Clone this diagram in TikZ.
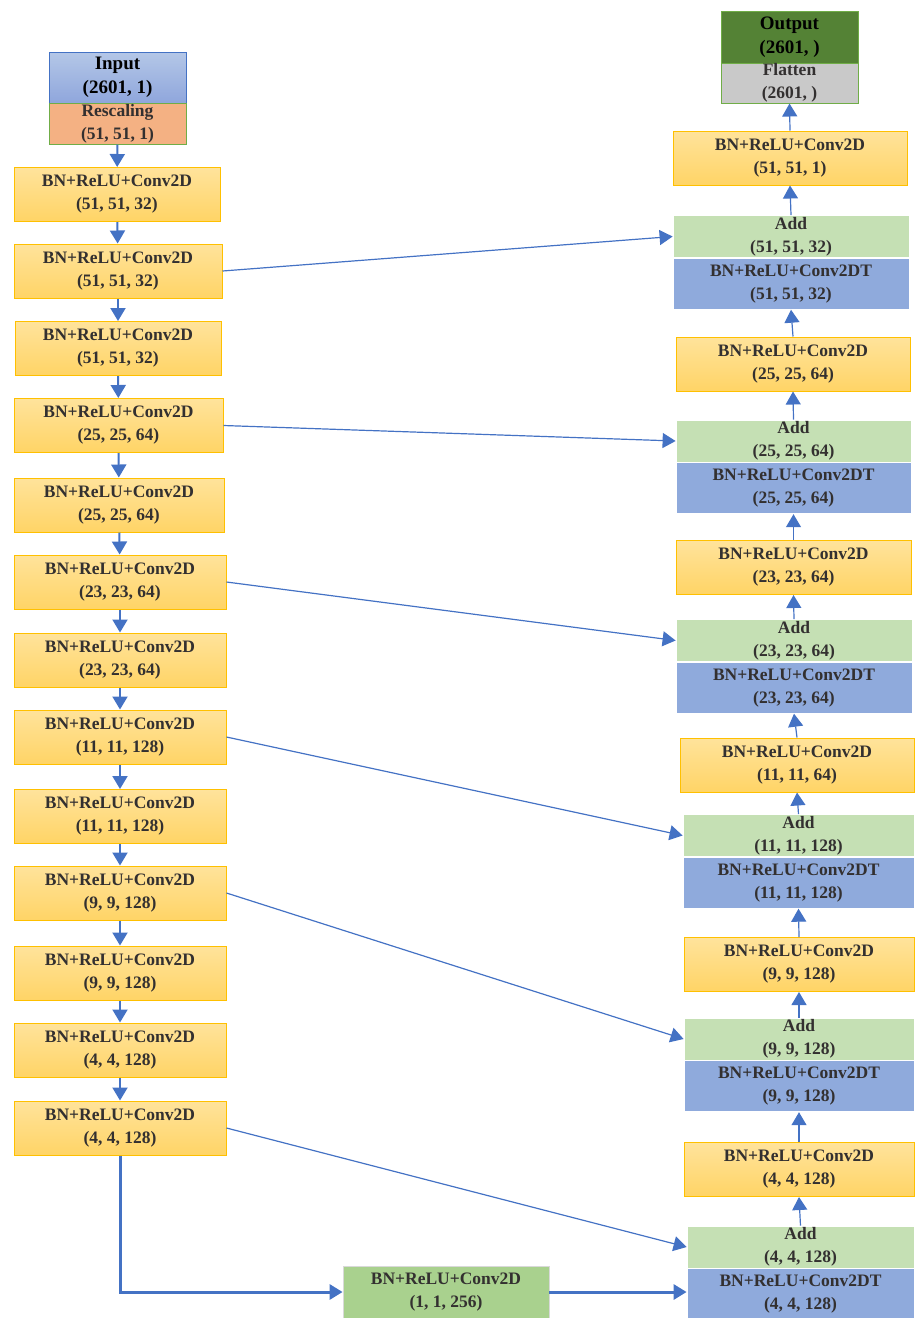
\documentclass[tikz,border=0pt]{standalone}
\usepackage{fontspec}
\setmainfont{Liberation Serif}
\usepackage{tikz}
\usetikzlibrary{arrows.meta}

\definecolor{convtop}{HTML}{FFE39B}
\definecolor{convbot}{HTML}{FFD466}
\definecolor{convline}{HTML}{FFC000}
\definecolor{addfill}{HTML}{C5E0B4}
\definecolor{dtfill}{HTML}{8FAADC}
\definecolor{inptop}{HTML}{B4C7E7}
\definecolor{inpbot}{HTML}{8FA6DC}
\definecolor{rescfill}{HTML}{F4B183}
\definecolor{outfill}{HTML}{548235}
\definecolor{flatfill}{HTML}{C9C9C9}
\definecolor{midfill}{HTML}{A9D18E}
\definecolor{edgegreen}{HTML}{70AD47}
\definecolor{arrowblue}{HTML}{4472C4}
\definecolor{txtgray}{HTML}{333030}

\tikzset{
  box/.style={align=center, inner sep=0pt, text=txtgray,
    font=\bfseries\fontsize{17.5}{23}\selectfont},
  conv/.style={box, draw=convline, line width=1pt, top color=convtop, bottom color=convbot,
    minimum width=210pt, minimum height=54pt},
  addbox/.style={box, fill=addfill, draw=white, line width=0.8pt, minimum height=42pt},
  dtbox/.style={box, fill=dtfill, draw=white, line width=0.8pt, minimum height=51pt},
  flow/.style={arrowblue, line width=2pt, -{Triangle[length=13pt,width=15pt]}},
  skip/.style={arrowblue, line width=1.2pt, -{Triangle[length=13pt,width=15pt]}},
  bottleneck/.style={arrowblue, line width=3pt, -{Triangle[length=13pt,width=15pt]}}
}

\begin{document}
\begin{tikzpicture}[x=1pt, y=-1pt]
\useasboundingbox (0,0) rectangle (915,1318);
% input
\node[box, draw=arrowblue, line width=1pt, top color=inptop, bottom color=inpbot, text=black,
  font=\bfseries\fontsize{19}{24}\selectfont,
  minimum width=137pt, minimum height=51pt] (inp) at (117.5,77.5) {Input\\(2601, 1)};
\node[box, draw=edgegreen, line width=1pt, fill=rescfill,
  minimum width=137pt, minimum height=41pt] (resc) at (117.5,123.5) {Rescaling\\(51, 51, 1)};
% encoder
\node[conv, minimum width=206pt] (c1) at (117,194.5) {BN+ReLU+Conv2D\\(51, 51, 32)};
\node[conv, minimum width=208pt] (c2) at (118,271) {BN+ReLU+Conv2D\\(51, 51, 32)};
\node[conv, minimum width=206pt] (c3) at (118,348.5) {BN+ReLU+Conv2D\\(51, 51, 32)};
\node[conv, minimum width=209pt] (c4) at (118.5,425.5) {BN+ReLU+Conv2D\\(25, 25, 64)};
\node[conv] (c5) at (119,505) {BN+ReLU+Conv2D\\(25, 25, 64)};
\node[conv, minimum width=212pt] (c6) at (120,582) {BN+ReLU+Conv2D\\(23, 23, 64)};
\node[conv, minimum width=212pt] (c7) at (120,660) {BN+ReLU+Conv2D\\(23, 23, 64)};
\node[conv, minimum width=212pt] (c8) at (120,737) {BN+ReLU+Conv2D\\(11, 11, 128)};
\node[conv, minimum width=212pt] (c9) at (120,816.5) {BN+ReLU+Conv2D\\(11, 11, 128)};
\node[conv, minimum width=212pt] (c10) at (120,893) {BN+ReLU+Conv2D\\(9, 9, 128)};
\node[conv, minimum width=212pt] (c11) at (120,973) {BN+ReLU+Conv2D\\(9, 9, 128)};
\node[conv, minimum width=212pt] (c12) at (120,1050) {BN+ReLU+Conv2D\\(4, 4, 128)};
\node[conv, minimum width=212pt] (c13) at (120,1128) {BN+ReLU+Conv2D\\(4, 4, 128)};
% bottleneck
\node[box, fill=midfill, draw=white!85!black, line width=0.8pt,
  minimum width=206pt, minimum height=52pt] (mid) at (446,1292) {BN+ReLU+Conv2D\\(1, 1, 256)};
% decoder
\node[box, draw=edgegreen, line width=1pt, fill=outfill, text=black,
  font=\bfseries\fontsize{19}{24}\selectfont,
  minimum width=137pt, minimum height=52pt] (out) at (789.5,37) {Output\\(2601, )};
\node[box, draw=edgegreen, line width=1pt, fill=flatfill,
  minimum width=137pt, minimum height=40pt] (flat) at (789.5,83) {Flatten\\(2601, )};
\node[conv, minimum width=234pt] (r0) at (790,158) {BN+ReLU+Conv2D\\(51, 51, 1)};
\node[addbox, minimum width=236pt] (a1) at (791,236.5) {Add\\(51, 51, 32)};
\node[dtbox, minimum width=236pt, anchor=north] (d1) at (a1.south) {BN+ReLU+Conv2DT\\(51, 51, 32)};
\node[conv, minimum width=234pt] (r1) at (793,364) {BN+ReLU+Conv2D\\(25, 25, 64)};
\node[addbox, minimum width=235pt] (a2) at (793.5,441) {Add\\(25, 25, 64)};
\node[dtbox, minimum width=235pt, anchor=north] (d2) at (a2.south) {BN+ReLU+Conv2DT\\(25, 25, 64)};
\node[conv, minimum width=235pt] (r2) at (793.5,567.5) {BN+ReLU+Conv2D\\(23, 23, 64)};
\node[addbox, minimum width=236pt] (a3) at (794,640.5) {Add\\(23, 23, 64)};
\node[dtbox, minimum width=236pt, anchor=north] (d3) at (a3.south) {BN+ReLU+Conv2DT\\(23, 23, 64)};
\node[conv, minimum width=234pt] (r3) at (797,765) {BN+ReLU+Conv2D\\(11, 11, 64)};
\node[addbox, minimum width=231pt] (a4) at (798.5,835.5) {Add\\(11, 11, 128)};
\node[dtbox, minimum width=231pt, anchor=north] (d4) at (a4.south) {BN+ReLU+Conv2DT\\(11, 11, 128)};
\node[conv, minimum width=230pt] (r4) at (799,964.5) {BN+ReLU+Conv2D\\(9, 9, 128)};
\node[addbox, minimum width=230pt] (a5) at (799,1039) {Add\\(9, 9, 128)};
\node[dtbox, minimum width=230pt, anchor=north] (d5) at (a5.south) {BN+ReLU+Conv2DT\\(9, 9, 128)};
\node[conv, minimum width=230pt] (r5) at (799,1169.5) {BN+ReLU+Conv2D\\(4, 4, 128)};
\node[addbox, minimum width=227pt] (a6) at (800.5,1247) {Add\\(4, 4, 128)};
\node[dtbox, minimum width=227pt, anchor=north] (d6) at (a6.south) {BN+ReLU+Conv2DT\\(4, 4, 128)};
% down the encoder
\draw[flow] (resc) -- (c1);
\draw[flow] (c1) -- (c2);
\draw[flow] (c2) -- (c3);
\draw[flow] (c3) -- (c4);
\draw[flow] (c4) -- (c5);
\draw[flow] (c5) -- (c6);
\draw[flow] (c6) -- (c7);
\draw[flow] (c7) -- (c8);
\draw[flow] (c8) -- (c9);
\draw[flow] (c9) -- (c10);
\draw[flow] (c10) -- (c11);
\draw[flow] (c11) -- (c12);
\draw[flow] (c12) -- (c13);
% through the bottleneck
\draw[bottleneck] (c13.south) |- (mid.west);
\draw[bottleneck] (mid.east) -- (d6.west |- mid.east);
% up the decoder
\draw[flow, line width=1.2pt] (a6.north) -- (r5.south);
\draw[flow, line width=1.2pt] (r5.north) -- (d5.south);
\draw[flow, line width=1.2pt] (a5.north) -- (r4.south);
\draw[flow, line width=1.2pt] (r4.north) -- (d4.south);
\draw[flow, line width=1.2pt] (a4.north) -- (r3.south);
\draw[flow, line width=1.2pt] (r3.north) -- (d3.south);
\draw[flow, line width=1.2pt] (a3.north) -- (r2.south);
\draw[flow, line width=1.2pt] (r2.north) -- (d2.south);
\draw[flow, line width=1.2pt] (a2.north) -- (r1.south);
\draw[flow, line width=1.2pt] (r1.north) -- (d1.south);
\draw[flow, line width=1.2pt] (a1.north) -- (r0.south);
\draw[flow, line width=1.2pt] (r0.north) -- (flat.south);
% skip connections
\draw[skip] (c2.east) -- (a1.west);
\draw[skip] (c4.east) -- (a2.west);
\draw[skip] (c6.east) -- (a3.west);
\draw[skip] (c8.east) -- (a4.west);
\draw[skip] (c10.east) -- (a5.west);
\draw[skip] (c13.east) -- (a6.west);
\end{tikzpicture}
\end{document}
